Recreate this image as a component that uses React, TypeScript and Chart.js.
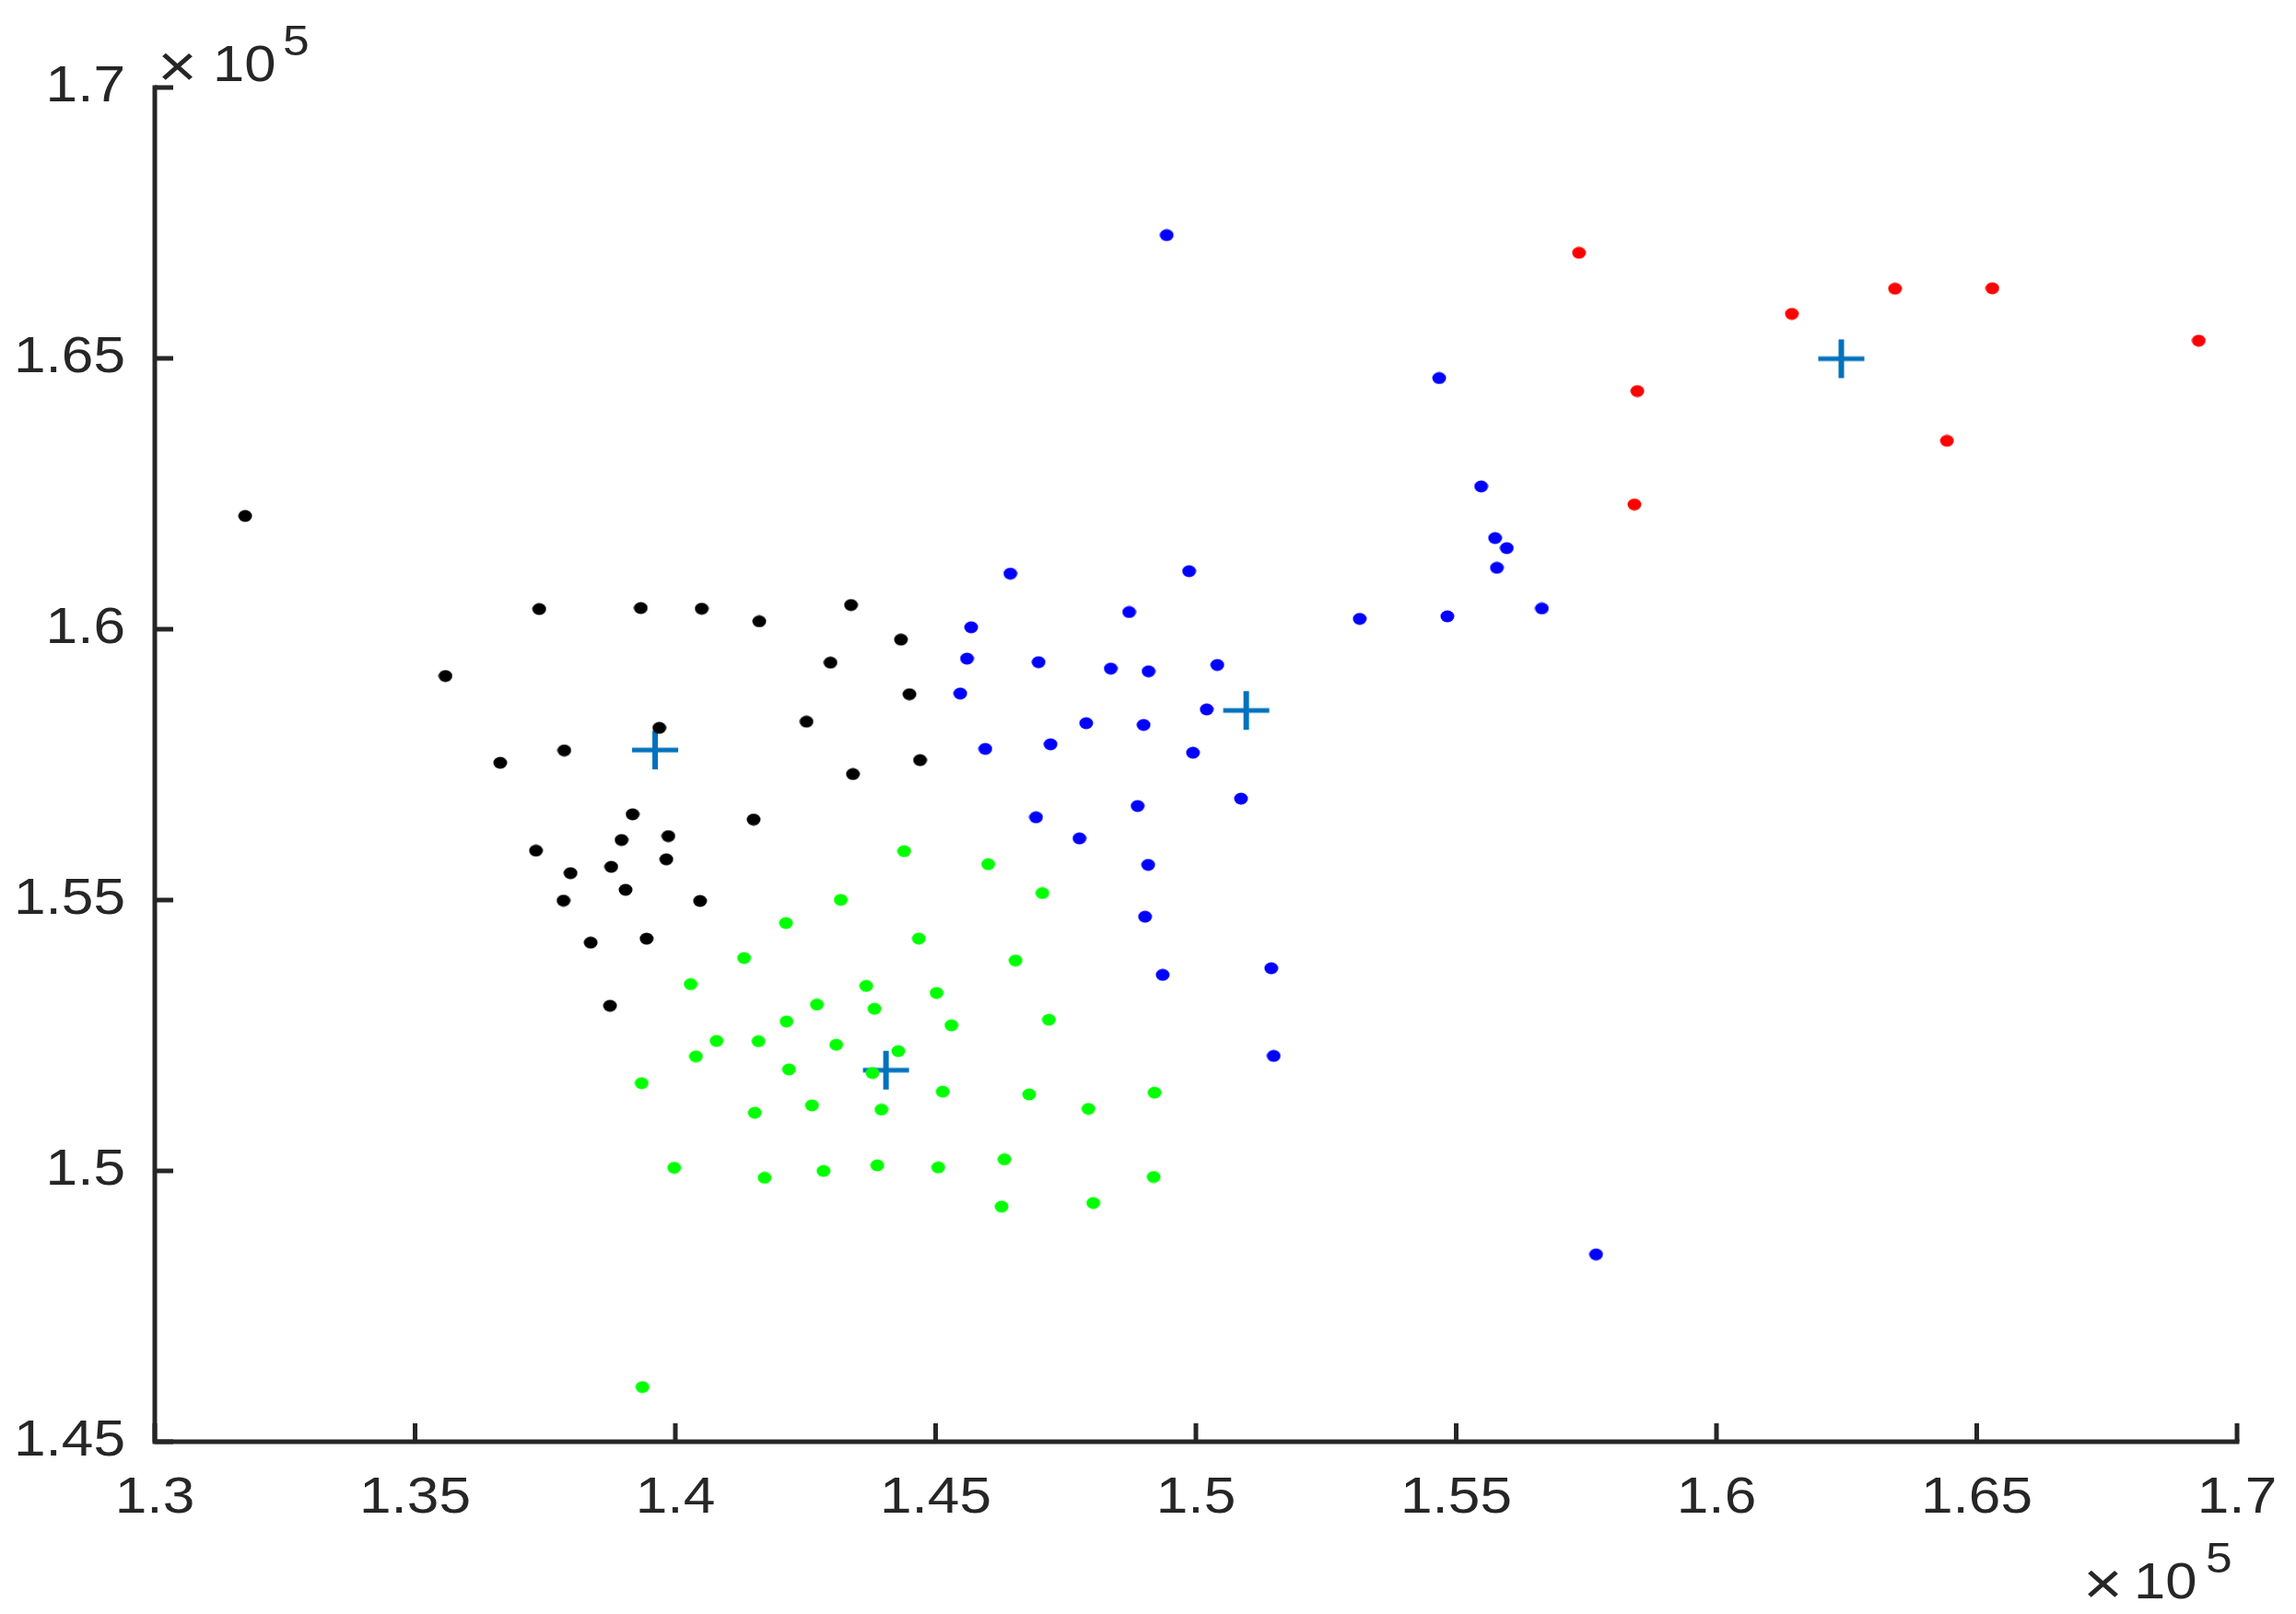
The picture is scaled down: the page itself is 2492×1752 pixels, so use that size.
import React, { useEffect, useRef } from "react";
import { Chart, registerables } from "chart.js";

Chart.register(...registerables);

// ---- data (actual units; axes show values ×10^5) ----
const blackX = [131736, 137386, 139336, 140506, 141612, 135584, 139692, 137867, 136635, 139179, 141503, 138966, 139866, 137322, 139827, 137986, 138768, 139044, 137851, 140474, 138373, 139448, 138745, 144333, 144497, 144701, 143375, 142979, 142519, 143411];
const blackY = [162090, 160372, 160391, 160379, 160145, 159136, 158179, 157762, 157534, 156583, 156486, 156109, 156180, 155913, 155752, 155497, 155614, 155190, 154990, 154983, 154214, 154287, 153049, 159808, 158799, 157582, 160447, 159383, 158294, 157325];

const blueX = [146435, 149869, 148717, 145683, 153147, 145602, 146977, 148365, 149090, 150411, 145473, 150207, 147892, 148995, 145954, 147207, 149943, 150866, 148880, 146929, 147763, 149083, 149023, 149361, 151448, 151494, 154673, 155480, 155747, 155972, 155781, 156645, 154830, 149439, 157687];
const blueY = [161026, 161071, 160316, 160036, 160192, 159457, 159391, 159274, 159223, 159340, 158813, 158519, 158265, 158233, 157791, 157876, 157719, 156872, 156736, 156527, 156138, 155650, 154692, 153619, 153741, 152122, 164636, 162636, 161682, 161497, 161134, 160383, 160238, 167274, 148458];

const greenX = [143177, 147050, 142126, 144678, 141320, 146535, 140294, 143667, 145018, 142718, 143825, 142135, 145303, 147176, 140791, 141597, 143090, 140396, 144283, 142183, 143786, 139352, 145137, 146797, 149205, 147935, 142625, 141526, 143959, 139977, 141715, 142846, 143880, 145050, 146322, 149189, 146267, 148028, 139368, 144396, 146009];
const greenY = [155004, 155128, 154575, 154288, 153930, 153884, 153447, 153415, 153286, 153070, 152993, 152759, 152687, 152791, 152400, 152393, 152328, 152114, 152211, 151873, 151808, 151619, 151463, 151412, 151444, 151145, 151209, 151073, 151131, 150058, 149874, 149998, 150102, 150063, 150213, 149888, 149342, 149407, 146009, 155903, 155662];

const redX = [157359, 163430, 165299, 161448, 169264, 158480, 164427, 158423];
const redY = [166949, 166287, 166294, 165822, 165327, 164396, 163478, 162303];

const centroidX = [139611, 144046, 150966, 162398];
const centroidY = [157769, 151860, 158500, 164993];

const X_MIN = 130000;
const X_MAX = 170000;
const Y_MIN = 145000;
const Y_MAX = 170000;
const TICK_STEP = 5000;
const EXPONENT_LABEL = "5";

// ---- styles ----
const AXIS_COLOR = "#262626";
const FONT_FAMILY = "'Liberation Sans', Arial, Helvetica, sans-serif";
const STRETCH = 1.13; // the reference text is slightly wider than plain Helvetica

const zip = (xs: number[], ys: number[]) => xs.map((x, i) => ({ x, y: ys[i] }));

function makeDot(color: string): HTMLCanvasElement {
  const c = document.createElement("canvas");
  c.width = 16;
  c.height = 14;
  const g = c.getContext("2d")!;
  g.fillStyle = color;
  g.beginPath();
  g.ellipse(8, 7, 7.5, 6.5, 0, 0, Math.PI * 2);
  g.fill();
  return c;
}

function makeCross(color: string): HTMLCanvasElement {
  const c = document.createElement("canvas");
  c.width = 52;
  c.height = 44;
  const g = c.getContext("2d")!;
  g.fillStyle = color;
  g.fillRect(23, 1, 6, 42);
  g.fillRect(1, 19.5, 50, 5);
  return c;
}

const fmtTick = (v: number | string) => {
  const n = Number(v) / 1e5;
  return parseFloat(n.toFixed(2)).toString();
};

function drawText(
  ctx: CanvasRenderingContext2D,
  str: string,
  x: number,
  y: number,
  size: number,
  align: CanvasTextAlign,
  baseline: CanvasTextBaseline,
  k: number = STRETCH
) {
  ctx.save();
  ctx.translate(x, y);
  ctx.scale(k, 1);
  ctx.font = `${size}px ${FONT_FAMILY}`;
  ctx.textAlign = align;
  ctx.textBaseline = baseline;
  ctx.fillText(str, 0, 0);
  ctx.restore();
}

const matlabAxes = {
  id: "matlabAxes",
  beforeDatasetsDraw(chart: any) {
    const { ctx, chartArea, scales } = chart;
    const { left, right, top, bottom } = chartArea;
    ctx.save();
    ctx.strokeStyle = AXIS_COLOR;
    ctx.lineWidth = 5;
    ctx.lineCap = "square";
    ctx.beginPath();
    ctx.moveTo(left, top);
    ctx.lineTo(left, bottom);
    ctx.lineTo(right, bottom);
    ctx.stroke();
    ctx.lineCap = "butt";
    ctx.beginPath();
    scales.x.ticks.forEach((t: any) => {
      const px = scales.x.getPixelForValue(t.value);
      ctx.moveTo(px, bottom);
      ctx.lineTo(px, bottom - 20);
    });
    scales.y.ticks.forEach((t: any) => {
      const py = scales.y.getPixelForValue(t.value);
      ctx.moveTo(left, py);
      ctx.lineTo(left + 20, py);
    });
    ctx.stroke();

    // tick labels (values taken from the library's scales)
    ctx.fillStyle = AXIS_COLOR;
    scales.x.ticks.forEach((t: any) => {
      const px = scales.x.getPixelForValue(t.value);
      drawText(ctx, fmtTick(t.value), px, bottom + 62, 55, "center", "middle");
    });
    scales.y.ticks.forEach((t: any) => {
      const py = scales.y.getPixelForValue(t.value);
      drawText(ctx, fmtTick(t.value), left - 32, py, 55, "right", "middle");
    });
    ctx.restore();
  },
  afterDraw(chart: any) {
    const { ctx, chartArea } = chart;
    const { left, right, top, bottom } = chartArea;
    ctx.save();
    ctx.fillStyle = AXIS_COLOR;
    const drawExp = (xTimes: number, baseTimes: number, x10: number, base: number, x5: number) => {
      drawText(ctx, "×", xTimes, baseTimes, 64, "left", "alphabetic", 1.15);
      drawText(ctx, "10", x10, base, 56, "left", "alphabetic", 1.1);
      drawText(ctx, EXPONENT_LABEL, x5, base - 28, 46, "left", "alphabetic", 1.12);
    };
    drawExp(left + 3, top - 1, left + 63, top - 7, left + 139);
    drawExp(right - 167, bottom + 176, right - 112, bottom + 170, right - 34);
    ctx.restore();
  },
};

export default function App() {
  const ref = useRef<HTMLCanvasElement>(null);

  useEffect(() => {
    if (!ref.current) return;
    const common = { showLine: false, pointRadius: 7, pointHoverRadius: 7 };
    const chart = new Chart(ref.current, {
      type: "scatter",
      data: {
        datasets: [
          { label: "Cluster 1", data: zip(blackX, blackY), pointStyle: makeDot("#000000") as any, ...common },
          { label: "Cluster 2", data: zip(greenX, greenY), pointStyle: makeDot("#00FF00") as any, ...common },
          { label: "Cluster 3", data: zip(blueX, blueY), pointStyle: makeDot("#0000FF") as any, ...common },
          { label: "Cluster 4", data: zip(redX, redY), pointStyle: makeDot("#FF0000") as any, ...common },
          { label: "Centroids", data: zip(centroidX, centroidY), pointStyle: makeCross("#0072BD") as any, ...common },
        ],
      },
      options: {
        responsive: false,
        animation: false,
        devicePixelRatio: 1,
        layout: { padding: { top: 95, right: 64, left: 0, bottom: 0 } },
        plugins: {
          legend: { display: false },
          tooltip: { enabled: false },
        },
        events: [],
        scales: {
          x: {
            type: "linear",
            min: X_MIN,
            max: X_MAX,
            grid: { display: false, drawTicks: false },
            border: { display: false },
            ticks: {
              display: false,
              stepSize: TICK_STEP,
              autoSkip: false,
              maxRotation: 0,
              callback: (v: any) => fmtTick(v),
            },
            afterFit: (scale: any) => {
              scale.height = 187;
            },
          },
          y: {
            type: "linear",
            min: Y_MIN,
            max: Y_MAX,
            grid: { display: false, drawTicks: false },
            border: { display: false },
            ticks: {
              display: false,
              stepSize: TICK_STEP,
              autoSkip: false,
              callback: (v: any) => fmtTick(v),
            },
            afterFit: (scale: any) => {
              scale.width = 168;
            },
          },
        },
      },
      plugins: [matlabAxes],
    } as any);
    return () => chart.destroy();
  }, []);

  return (
    <div style={{ position: "absolute", left: 0, top: 0, width: 2492, height: 1752, background: "#ffffff" }}>
      <canvas ref={ref} width={2492} height={1752} style={{ display: "block", width: 2492, height: 1752 }} />
    </div>
  );
}
